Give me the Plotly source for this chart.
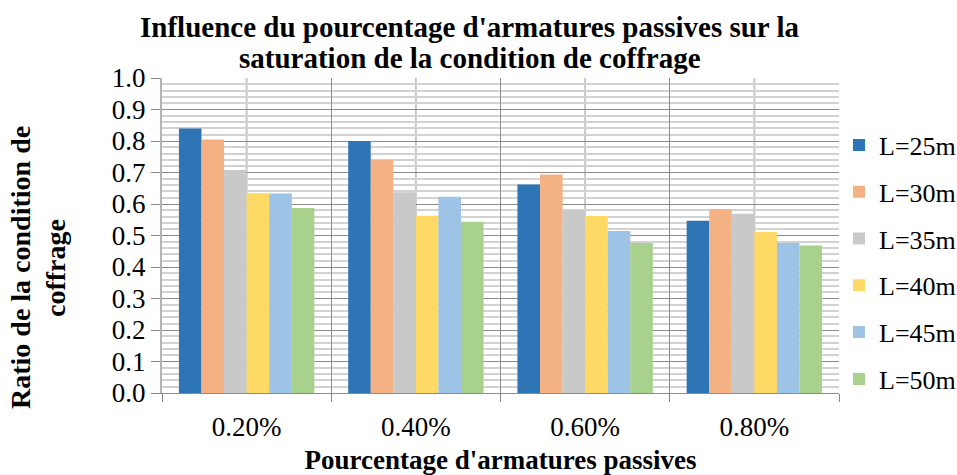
import plotly.graph_objects as go

# Percentage of passive reinforcement (category axis)
categories = ["0.20%", "0.40%", "0.60%", "0.80%"]

# Formwork-condition ratio for each span length
series_names = ["L=25m", "L=30m", "L=35m", "L=40m", "L=45m", "L=50m"]
l25 = [0.840, 0.800, 0.662, 0.547]
l30 = [0.805, 0.740, 0.694, 0.584]
l35 = [0.708, 0.637, 0.580, 0.569]
l40 = [0.634, 0.563, 0.562, 0.511]
l45 = [0.633, 0.623, 0.514, 0.476]
l50 = [0.587, 0.544, 0.476, 0.468]
series_values = [l25, l30, l35, l40, l45, l50]

colors = ["#2E75B6", "#F4B183", "#C9C9C9", "#FFD966", "#9DC3E6", "#A9D18E"]

FONT = "Liberation Serif"
L, R, T, B = 162, 118, 78, 82
W, H = 957, 475
PW, PH = W - L - R, H - T - B

fig = go.Figure()
for name, vals, col in zip(series_names, series_values, colors):
    fig.add_trace(go.Bar(
        x=categories, y=vals, name=name,
        marker=dict(color=col, line=dict(width=0)),
        legendgroup=name,
    ))

# light grid lines through the middle of each category
for c in categories:
    fig.add_shape(type="line", xref="x", yref="paper", x0=c, x1=c, y0=0, y1=1,
                  line=dict(color="#C8C8C8", width=2), layer="below")

# chart title, two lines
title_lines = ["Influence du pourcentage d'armatures passives sur la",
               "saturation de la condition de coffrage"]
for line, ypix in zip(title_lines, [27, 58]):
    fig.add_annotation(text="<b>%s</b>" % line, xref="paper", yref="paper",
                       x=(470 - L) / PW, y=(H - B - ypix) / PH,
                       xanchor="center", yanchor="middle", showarrow=False,
                       font=dict(family=FONT, size=29, color="black"))

# y-axis title, two rotated lines
ytitle_lines = ["Ratio de la condition de", "coffrage"]
for line, xpix in zip(ytitle_lines, [20, 55]):
    fig.add_annotation(text="<b>%s</b>" % line, xref="paper", yref="paper",
                       x=(xpix - L) / PW, y=(H - B - 268) / PH,
                       xanchor="center", yanchor="middle", showarrow=False,
                       textangle=-90,
                       font=dict(family=FONT, size=28, color="black"))

fig.update_layout(
    width=W, height=H,
    margin=dict(l=L, r=R, t=T, b=B, autoexpand=False),
    paper_bgcolor="white", plot_bgcolor="white",
    barmode="group", bargap=0.2, bargroupgap=0,
    font=dict(family=FONT, size=26, color="black"),
    legend=dict(
        x=(839 - L) / PW, xanchor="left", y=(H - B - 262) / PH, yanchor="middle",
        font=dict(family=FONT, size=26, color="black"),
        tracegroupgap=10, itemwidth=30,
        bgcolor="rgba(0,0,0,0)",
    ),
    showlegend=True,
)

fig.update_xaxes(
    type="category",
    tickson="boundaries", ticks="outside", ticklen=8, tickcolor="#888888",
    showgrid=True, gridcolor="#8C8C8C", gridwidth=1,
    showline=True, linecolor="#8C8C8C", linewidth=1,
    tickfont=dict(family=FONT, size=27, color="black"),
    ticklabelstandoff=10,
    title=dict(text="<b>Pourcentage d'armatures passives</b>",
               font=dict(family=FONT, size=27, color="black"), standoff=10),
)

fig.update_yaxes(
    range=[0, 1.0], tickmode="linear", tick0=0, dtick=0.1, tickformat=".1f",
    ticks="outside", ticklen=9, tickcolor="#888888",
    showgrid=True, gridcolor="#8C8C8C", gridwidth=1,
    minor=dict(dtick=0.02, showgrid=True, gridcolor="#D2D2D2", gridwidth=2),
    showline=True, linecolor="#B4B4B4", linewidth=2,
    zeroline=False,
    tickfont=dict(family=FONT, size=27, color="black"),
)

fig.write_html("out.html")
